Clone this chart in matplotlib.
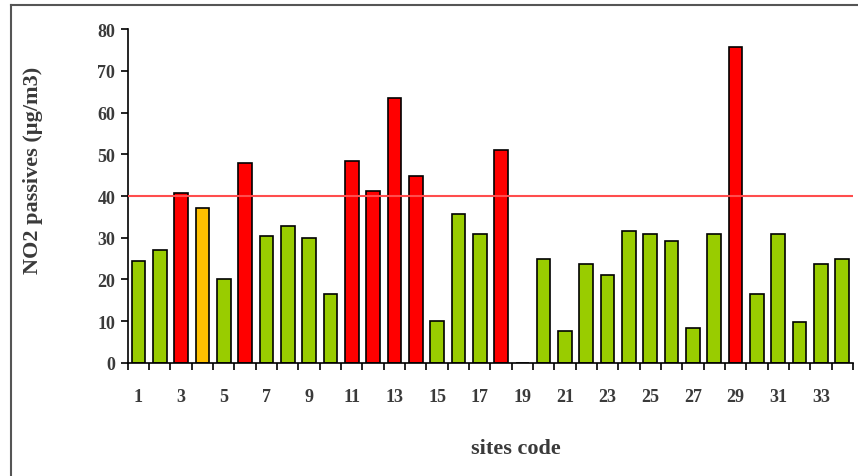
import matplotlib
matplotlib.use('Agg')
import matplotlib.pyplot as plt
from matplotlib.lines import Line2D
from matplotlib.ticker import FixedLocator

# NO2 passive sampler results per site
sites = list(range(1, 35))
no2 = [24.5, 27.1, 40.6, 37.1, 20.2, 48.0, 30.4, 32.8, 30.0, 16.6,
       48.4, 41.3, 63.4, 44.7, 10.1, 35.8, 30.8, 51.0, 0.0, 24.9,
       7.6, 23.7, 21.1, 31.6, 30.8, 29.1, 8.4, 30.8, 75.6, 16.5,
       30.8, 9.9, 23.7, 24.9]
# g = under limit, o = close to limit, r = over limit
status = ['g', 'g', 'r', 'o', 'g', 'r', 'g', 'g', 'g', 'g',
          'r', 'r', 'r', 'r', 'g', 'g', 'g', 'r', 'g', 'g',
          'g', 'g', 'g', 'g', 'g', 'g', 'g', 'g', 'r', 'g',
          'g', 'g', 'g', 'g']
limit = 40
tick_labels = [str(s) for s in sites if s % 2 == 1]

palette = {'g': '#99cc00', 'o': '#ffc000', 'r': '#ff0000'}
colors = [palette[s] for s in status]

plt.rcParams['font.family'] = ['Liberation Serif', 'DejaVu Serif']
text_col = '#3a3a3a'

fig = plt.figure(figsize=(8.58, 4.77), dpi=100)
ax = fig.add_axes([0.149, 0.237, 0.845, 0.7])

ax.bar(sites, no2, width=0.64, color=colors, edgecolor='black', linewidth=1.2, zorder=2)
ax.axhline(limit, color='#ff4d4d', linewidth=1.5, zorder=3)

ax.set_xlim(0.5, 34.5)
ax.set_ylim(0, 80)
ax.set_yticks(range(0, 81, 10))
ax.set_xticks([s for s in sites if s % 2 == 1])
ax.set_xticklabels(tick_labels)
ax.xaxis.set_minor_locator(FixedLocator([s + 0.5 for s in range(0, 35)]))
ax.tick_params(axis='x', which='major', length=0, pad=18)
ax.tick_params(axis='x', which='minor', length=5, width=1.2, direction='out')
ax.tick_params(axis='y', length=5, width=1.2, direction='out', pad=4)
ax.tick_params(labelsize=13, labelcolor=text_col)
for lab in ax.get_xticklabels() + ax.get_yticklabels():
    lab.set_fontweight('bold')

for side in ['top', 'right']:
    ax.spines[side].set_visible(False)
for side in ['left', 'bottom']:
    ax.spines[side].set_linewidth(1.2)

ax.set_ylabel('NO2 passives (µg/m3)', fontsize=16, fontweight='bold', color=text_col)
ax.set_xlabel('sites code', fontsize=16, fontweight='bold', color=text_col)
# labels sit a bit off-centre in the original
ax.yaxis.set_label_coords(-0.117, 0.58)
ax.xaxis.set_label_coords(0.535, -0.225)

# outer picture frame (left and top edges only are visible)
fig.add_artist(Line2D([11 / 858, 11 / 858], [0, 1 - 6 / 477], transform=fig.transFigure,
                      color='#555555', linewidth=1.5))
fig.add_artist(Line2D([11 / 858, 1], [1 - 6 / 477, 1 - 6 / 477], transform=fig.transFigure,
                      color='#555555', linewidth=1.5))

fig.savefig('out.png', dpi=100)
